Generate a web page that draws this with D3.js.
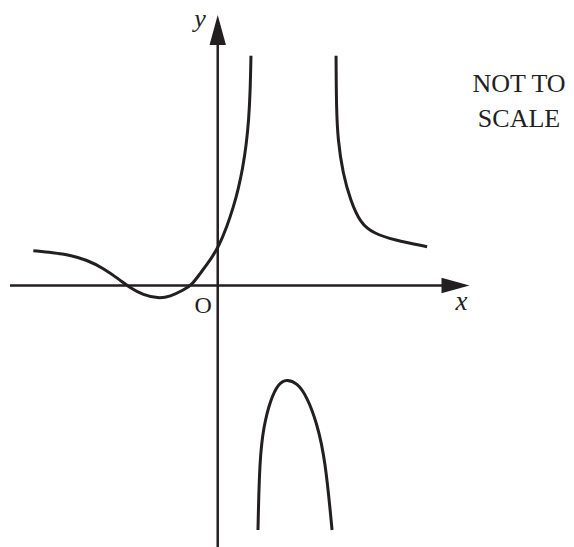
<!DOCTYPE html>
<html>
<head>
<meta charset="utf-8">
<script src="https://cdn.jsdelivr.net/npm/d3@7"></script>
<style>
  body { margin: 0; background: #fff; }
  text { font-family: "Liberation Serif", "Times New Roman", serif; fill: #231f20; }
</style>
</head>
<body>
<div id="sketch"></div>
<script>

// axis extents (sketch units)
var xDomain = [-20.75, 25.15];
var yDomain = [-26.2, 27.05];

// left branch: wiggle through the negative x side, then up to the asymptote
var leftX = [-18.42, -16.45, -14.75, -13.08, -11.45, -9.75, -8.75, -7.45, -5.95, -4.75, -3.42, -2.58, -1.75, -0.75, 0.08, 0.92, 1.58, 2.08, 2.5, 2.85, 3.1, 3.25, 3.32];
var leftY = [3.48, 3.28, 3.05, 2.55, 1.75, 0.55, -0.25, -0.95, -1.3, -1.12, -0.45, 0.05, 1.22, 2.55, 3.85, 5.88, 7.88, 9.75, 11.75, 14.05, 16.55, 19.55, 22.98];

// right branch: comes down from the asymptote, levels off
var rightX = [11.82, 11.85, 12.0, 12.5, 13.25, 14.25, 15.58, 17.58, 20.92];
var rightY = [22.98, 17.88, 14.55, 11.22, 8.55, 6.22, 5.22, 4.55, 3.88];

// middle branch: the arch below the x axis
var archX = [4.02, 4.18, 4.58, 5.25, 6.08, 6.85, 7.92, 8.92, 9.92, 10.75, 11.42];
var archY = [-24.45, -17.45, -14.12, -11.45, -9.78, -9.38, -9.72, -11.12, -13.78, -17.45, -24.45];

var noteLines = ["NOT TO", "SCALE"];

var width = 574;
var height = 547;
var ink = "#231f20";

var svg = d3.select("#sketch")
  .append("svg")
  .attr("width", width)
  .attr("height", height);

var x = d3.scaleLinear()
  .domain(xDomain)
  .range([10, 469.5]);

var y = d3.scaleLinear()
  .domain(yDomain)
  .range([547.5, 15]);

// x axis with arrow
svg.append("line")
  .attr("x1", x(xDomain[0]))
  .attr("x2", x(xDomain[1]) - 20)
  .attr("y1", y(0))
  .attr("y2", y(0))
  .attr("stroke", ink)
  .attr("stroke-width", 2.5);

svg.append("path")
  .attr("d", "M" + x(xDomain[1]) + "," + y(0) +
    "L" + (x(xDomain[1]) - 28) + "," + (y(0) - 7.8) +
    "L" + (x(xDomain[1]) - 28) + "," + (y(0) + 7.8) + "Z")
  .attr("fill", ink);

// y axis with arrow
svg.append("line")
  .attr("x1", x(0))
  .attr("x2", x(0))
  .attr("y1", y(yDomain[0]))
  .attr("y2", y(yDomain[1]) + 20)
  .attr("stroke", ink)
  .attr("stroke-width", 2.5);

svg.append("path")
  .attr("d", "M" + x(0) + "," + y(yDomain[1]) +
    "L" + (x(0) - 8.2) + "," + (y(yDomain[1]) + 30) +
    "L" + (x(0) + 8.2) + "," + (y(yDomain[1]) + 30) + "Z")
  .attr("fill", ink);

// curves (basis spline smooths out reading noise)
var line = d3.line()
  .x(function (d) { return x(d[0]); })
  .y(function (d) { return y(d[1]); })
  .curve(d3.curveBasis);

var branches = [
  d3.zip(leftX, leftY),
  d3.zip(rightX, rightY),
  d3.zip(archX, archY)
];

svg.selectAll(".branch")
  .data(branches)
  .enter()
  .append("path")
  .attr("class", "branch")
  .attr("d", line)
  .attr("fill", "none")
  .attr("stroke", ink)
  .attr("stroke-width", 3)
  .attr("stroke-linecap", "butt");

// labels
svg.append("text")
  .attr("x", x(0) - 23.5)
  .attr("y", y(yDomain[1]) + 12)
  .style("font-size", "26px")
  .style("font-style", "italic")
  .text("y");

svg.append("text")
  .attr("x", x(xDomain[1]) - 14)
  .attr("y", y(0) + 24.5)
  .style("font-size", "27px")
  .style("font-style", "italic")
  .text("x");

svg.append("text")
  .attr("x", x(0) - 14.5)
  .attr("y", y(0) + 27)
  .attr("text-anchor", "middle")
  .style("font-size", "24px")
  .text("O");

svg.selectAll(".note")
  .data(noteLines)
  .enter()
  .append("text")
  .attr("class", "note")
  .attr("x", 519)
  .attr("y", function (d, i) { return 91.5 + i * 35; })
  .attr("text-anchor", "middle")
  .style("font-size", "26px")
  .text(function (d) { return d; });

</script>
</body>
</html>
